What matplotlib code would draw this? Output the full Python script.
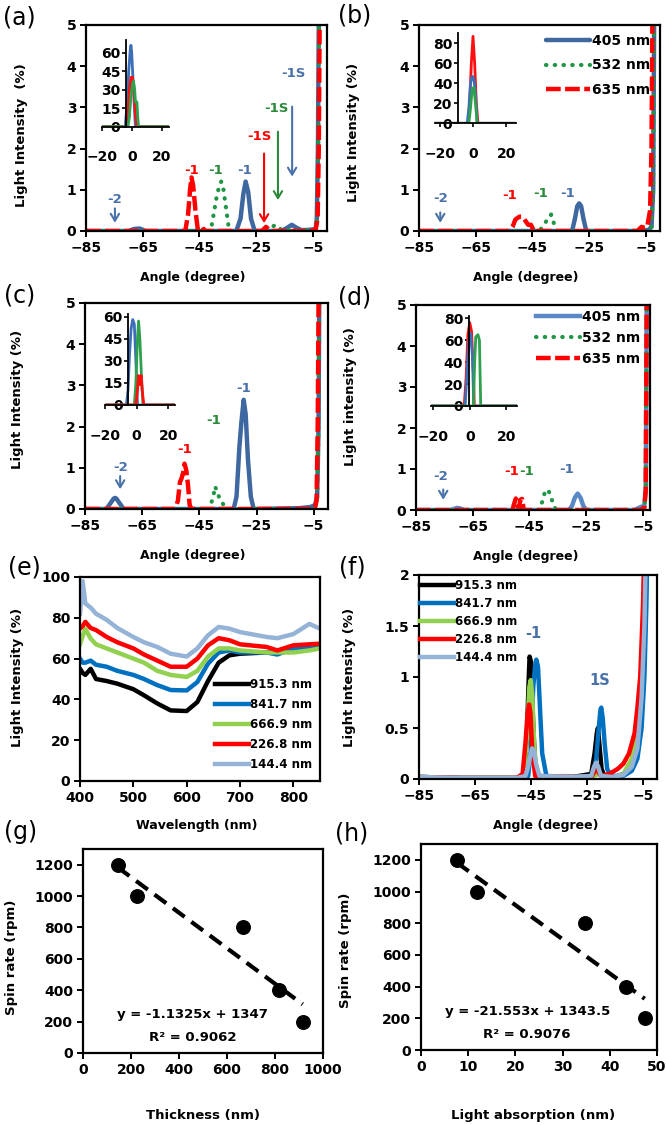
import numpy as np
import matplotlib
matplotlib.use("Agg")
import matplotlib.pyplot as plt

plt.rcParams['font.family'] = ['DejaVu Sans']
plt.rcParams['font.weight'] = 'bold'
plt.rcParams['axes.labelweight'] = 'bold'

W, H = 666, 1125

# ---------------- data ----------------
# (a) angle scans, main plot
a_blue_x = [-85, -70, -68, -66, -64, -32, -30.5, -29.5, -28.7, -27.8, -26.8, -25.5, -16, -14, -12.4, -10.8, -9, -6, -4, -3.6, -3.2, -2.8]
a_blue_y = [0, 0, 0.05, 0.06, 0, 0, 0.3, 0.9, 1.2, 0.95, 0.3, 0, 0, 0.08, 0.15, 0.08, 0.02, 0.03, 0.05, 0.3, 2.0, 6.0]
a_green_x = [-85, -41, -40, -39, -38, -37.3, -36.5, -35.5, -34.5, -22, -20, -18, -16, -6, -4, -3.5, -3.1, -2.7]
a_green_y = [0, 0, 0.4, 0.8, 1.1, 1.2, 1.0, 0.5, 0, 0, 0.08, 0.15, 0.02, 0.02, 0.05, 0.3, 2.0, 6.0]
a_red_x = [-85, -50, -49, -48.3, -47.8, -47.2, -46.4, -45.5, -44, -43.5, -43, -23, -21.5, -20, -6, -4, -3.3, -2.9, -2.5]
a_red_y = [0, 0, 0.4, 1.0, 1.3, 1.1, 0.5, 0, 0, 0.05, 0, 0, 0.1, 0, 0, 0.03, 0.3, 2.0, 6.0]

# (a) inset
ia_blue_x = [-20, -5, -4.3, -3, -2, -1, -0.5, 0, 1, 2, 2.5, 25]
ia_blue_y = [0, 0, 0, 20, 45, 62, 66, 60, 35, 10, 0, 0]
ia_red_x = [-20, -3.5, -2.5, -1.5, -0.5, 0.5, 1.5, 2.5, 3.5, 25]
ia_red_y = [0, 0, 10, 30, 40, 40, 30, 10, 0, 0]
ia_green_x = [-20, -2.5, -1.5, -0.5, 0.5, 1.2, 2, 2.5, 3.5, 4, 4.6, 25]
ia_green_y = [0, 0, 8, 25, 34, 37, 30, 20, 20, 8, 0, 0]

# (b)
b_blue_x = [-85, -31, -30, -29.2, -28.5, -27.8, -27, -26, -6, -4, -3, -2.4, -2.0]
b_blue_y = [0, 0, 0.3, 0.6, 0.67, 0.6, 0.3, 0, 0, 0.03, 0.1, 1.0, 6]
b_green_x = [-85, -43, -42, -41, -40, -39, -38.4, -37.5, -36.5, -6, -4, -3, -2.4, -2.0]
b_green_y = [0, 0, 0.05, 0.15, 0.25, 0.35, 0.4, 0.2, 0, 0, 0.03, 0.1, 1.0, 6]
b_red_x = [-85, -53, -52, -51, -49.5, -49, -48, -46.5, -45.5, -44.5, -8, -6.5, -5.5, -4.5, -3.5, -3, -2.6]
b_red_y = [0, 0, 0.1, 0.28, 0.35, 0.35, 0.3, 0.15, 0.15, 0, 0, 0.1, 0.08, 0.1, 0.5, 2.0, 6]

ib_red_x = [-23, -3, -2, -1, 0, 1, 2, 3, 26]
ib_red_y = [0, 0, 20, 60, 87, 60, 20, 0, 0]
ib_blue_x = [-23, -3.5, -2.5, -1.5, -0.5, 0.5, 1.5, 2.5, 26]
ib_blue_y = [0, 0, 15, 40, 47, 45, 30, 0, 0]
ib_green_x = [-23, -2.5, -1.5, -0.5, 0.5, 1.5, 2.5, 26]
ib_green_y = [0, 0, 15, 34, 36, 20, 0, 0]

# (c)
c_blue_x = [-85, -77.5, -76, -75, -74.5, -74, -73, -71.5, -33, -32, -31, -30.3, -29.5, -28.8, -28, -27, -26, -10, -6, -4.5, -3.8, -3.3, -3]
c_blue_y = [0, 0, 0.15, 0.25, 0.27, 0.25, 0.15, 0, 0, 0.3, 1.5, 2.1, 2.65, 2.3, 1.2, 0.3, 0, 0.02, 0.05, 0.1, 0.3, 2.0, 6]
c_green_x = [-85, -42, -41, -40, -39.5, -38.5, -37.5, -36.5, -35.5, -6, -4.5, -3.8, -3.3, -3]
c_green_y = [0, 0, 0.1, 0.35, 0.55, 0.35, 0.2, 0.1, 0, 0, 0.05, 0.2, 2, 6]
c_red_x = [-85, -53.5, -52.5, -51.8, -51.2, -50.6, -50.2, -49.6, -49, -48.4, -47.8, -6, -4.5, -4, -3.6, -3.2]
c_red_y = [0, 0, 0.2, 0.65, 0.75, 0.9, 1.1, 0.95, 0.6, 0.1, 0, 0, 0.05, 0.2, 2, 6]

ic_blue_x = [-20, -6.5, -5.5, -4.5, -3.5, -2.5, -1.5, -0.5, 0.5, 24]
ic_blue_y = [0, 0, 10, 35, 52, 58, 55, 30, 0, 0]
ic_green_x = [-20, -1.5, -0.5, 0.5, 1.2, 2, 3, 4, 24]
ic_green_y = [0, 0, 15, 45, 57, 45, 20, 0, 0]
ic_red_x = [-20, -0.5, 0.5, 1.2, 2, 2.8, 3.5, 4.5, 24]
ic_red_y = [0, 0, 10, 20, 14, 20, 10, 0, 0]

# (d)
d_blue_x = [-85, -73, -71, -70.5, -69.5, -68, -31, -30, -29, -28, -27, -26, -25, -8, -6.5, -5.5, -4.5, -4, -3.6]
d_blue_y = [0, 0, 0.04, 0.05, 0.04, 0, 0, 0.1, 0.3, 0.4, 0.3, 0.1, 0, 0, 0.05, 0.08, 0.1, 0.5, 6]
d_green_x = [-85, -41.5, -40.5, -39.5, -38.5, -37.5, -36.5, -35.5, -6, -4.5, -4, -3.6]
d_green_y = [0, 0, 0.2, 0.45, 0.5, 0.35, 0.1, 0, 0, 0.05, 0.5, 6]
d_red_x = [-85, -51, -50.2, -49.8, -49.2, -48.7, -48.2, -47.6, -47, -6, -4.5, -4, -3.6]
d_red_y = [0, 0, 0.2, 0.28, 0.1, 0.05, 0.25, 0.27, 0, 0, 0.05, 0.5, 6]

id_red_x = [-21, -3, -2, -1, 0, 1, 2, 2.5, 26]
id_red_y = [0, 0, 25, 65, 76, 68, 30, 0, 0]
id_blue_x = [-21, -2.5, -1.5, -0.5, 0.5, 1.5, 2.2, 26]
id_blue_y = [0, 0, 30, 60, 66, 45, 0, 0]
id_green_x = [-21, 2, 2.7, 3.3, 4.5, 5.3, 6, 26]
id_green_y = [0, 0, 40, 63, 65, 60, 0, 0]

laser_labels = ['405 nm', '532 nm', '635 nm']

# (e) spectra
thick_labels = ['915.3 nm', '841.7 nm', '666.9 nm', '226.8 nm', '144.4 nm']
e_x = [400, 405, 410, 420, 430, 450, 470, 500, 520, 545, 570, 600, 620, 640, 660, 680, 700, 750, 770, 800, 830, 850]
e_915 = [55, 53, 52, 55, 50, 49, 47.7, 45, 42, 38, 34.6, 34.3, 38.7, 49, 58, 61.6, 62.4, 63, 63, 65, 66, 67]
e_842 = [60, 58, 58, 59, 57, 56, 54, 52, 50, 47, 44.6, 44.4, 48.5, 57.5, 63, 64, 63, 63, 62, 65, 65, 66]
e_667 = [67, 71, 74.6, 69.8, 67, 65, 63, 60, 58, 54, 52, 51, 54, 61, 65, 65, 64, 63, 63, 63, 64, 65]
e_227 = [74.7, 76, 78, 75, 74, 70.6, 68, 65, 62, 59, 56, 56, 60, 66.5, 70, 69, 67, 65.7, 64, 66.5, 67, 67.3]
e_144 = [82, 98, 87, 85, 82, 79, 75, 70.6, 68, 65.7, 62.4, 61, 65, 71.4, 75.5, 74.7, 73, 70.6, 70, 72, 77, 74.7]

# (f) angle scans for the five thicknesses
f_915_x = [-85, -70, -60, -50, -47.5, -46.5, -45.8, -45.5, -45, -44.3, -43.5, -42, -30, -23.5, -22.3, -21.5, -21.1, -20.6, -19.8, -18.8, -15, -12, -10, -8, -6, -5, -4, -3.5]
f_915_y = [0.02, 0.01, 0.01, 0.01, 0.05, 0.4, 1.0, 1.2, 1.15, 0.6, 0.1, 0.02, 0.02, 0.05, 0.25, 0.45, 0.5, 0.35, 0.1, 0.03, 0.02, 0.05, 0.1, 0.2, 0.6, 1.0, 1.8, 2.5]
f_842_x = [-85, -70, -50, -46, -45, -44.2, -43.5, -43.1, -42.5, -41.8, -41, -39.5, -30, -23, -21.7, -20.8, -20.2, -19.9, -19.4, -18.7, -17.8, -16.5, -12, -9, -7, -5.5, -4.5, -3.8, -3.3]
f_842_y = [0.02, 0.01, 0.01, 0.03, 0.3, 0.9, 1.12, 1.17, 1.1, 0.7, 0.25, 0.03, 0.02, 0.03, 0.2, 0.5, 0.68, 0.7, 0.6, 0.35, 0.1, 0.03, 0.03, 0.08, 0.2, 0.5, 1.0, 1.7, 2.5]
f_667_x = [-85, -70, -50, -47.5, -46.5, -45.6, -45.1, -44.5, -43.8, -42.8, -30, -23, -21.1, -19, -15, -12, -9, -7, -6, -5, -4.3, -3.8]
f_667_y = [0.02, 0.01, 0.01, 0.04, 0.4, 0.9, 0.97, 0.8, 0.3, 0.03, 0.02, 0.02, 0.05, 0.02, 0.02, 0.05, 0.2, 0.45, 0.8, 1.3, 2.2, 2.6]
f_227_x = [-85, -70, -50, -48, -47, -46.2, -45.7, -45.2, -44.5, -43.5, -30, -23.5, -21.7, -20, -17, -14, -12, -10, -8, -7, -6, -5, -4.5]
f_227_y = [0.02, 0.01, 0.01, 0.05, 0.35, 0.65, 0.73, 0.65, 0.25, 0.03, 0.02, 0.02, 0.1, 0.03, 0.05, 0.1, 0.15, 0.25, 0.45, 0.7, 1.0, 1.7, 2.3]
f_144_x = [-85, -70, -50, -47, -46, -45.3, -44.6, -44, -43.2, -42, -30, -23.5, -22.5, -21.7, -21, -20, -16, -12, -9, -7, -5.5, -4.5, -3.8]
f_144_y = [0.02, 0.01, 0.01, 0.03, 0.12, 0.22, 0.3, 0.28, 0.15, 0.03, 0.02, 0.03, 0.12, 0.16, 0.12, 0.03, 0.02, 0.04, 0.12, 0.3, 0.8, 1.5, 2.5]

# (g), (h)
spin_rate = [1200, 1000, 800, 400, 200]
thickness = [144.4, 226.8, 666.9, 815.0, 915.3]
absorption = [7.6, 11.8, 34.8, 43.5, 47.4]

# ---------------- styles ----------------
BLUE = '#3F67A0'
GREEN = '#1E9646'
RED = '#FF0000'
TXT_BLUE = '#4A72A8'
TXT_GREEN = '#2A8A3A'
IN_BLUE = '#3C6FB8'
IN_GREEN = '#2EA04E'
IN_RED = '#FF1010'
blue_kw = dict(color=BLUE, lw=3.2, solid_capstyle='round')
green_kw = dict(color=GREEN, lw=3.0, linestyle=(0, (0.1, 2.0)), dash_capstyle='round')
red_kw = dict(color=RED, lw=3.2, linestyle=(0, (3.3, 1.0)))
thick_colors = ['#000000', '#0070C0', '#92D050', '#FF0000', '#95B3D7']

TICK = 10

fig = plt.figure(figsize=(W / 100, H / 100), dpi=100)


def px_axes(x0, x1, yt, yb):
    return fig.add_axes([x0 / W, 1 - yb / H, (x1 - x0) / W, (yb - yt) / H])


def ftext(x, y, s, **kw):
    kw.setdefault('ha', 'center')
    kw.setdefault('va', 'center')
    fig.text(x / W, 1 - y / H, s, **kw)


def style_main(ax):
    for sp in ax.spines.values():
        sp.set_linewidth(1.6)
    ax.tick_params(direction='out', length=4, width=1.4, labelsize=TICK, pad=3)


def angle_panel(ax, xmax):
    ax.set_xlim(-85, xmax)
    ax.set_ylim(0, 5)
    ax.set_xticks([-85, -65, -45, -25, -5])
    ax.set_yticks(range(6))
    style_main(ax)


def inset(x0, x1, yt, yb, xlim, ylim, yticks, yaxis_at):
    ax = px_axes(x0, x1, yt, yb)
    ax.patch.set_alpha(0)
    ax.spines['top'].set_visible(False)
    ax.spines['right'].set_visible(False)
    ax.spines['left'].set_position(('data', yaxis_at))
    for sp in ax.spines.values():
        sp.set_linewidth(1.3)
    ax.set_xlim(xlim)
    ax.set_ylim(ylim)
    ax.set_xticks([-20, 0, 20])
    ax.set_yticks(yticks)
    ax.tick_params(direction='out', length=3, width=1.2, labelsize=TICK, pad=1)
    ax.tick_params(axis='x', pad=14)
    return ax


def label(ax, x, y, s, c, size=9.5):
    ax.text(x, y, s, color=c, ha='center', va='center', fontsize=size)


def arrow(ax, x, y0, y1, c, head='->,head_length=0.5,head_width=0.3'):
    ax.annotate('', xy=(x, y1), xytext=(x, y0),
                arrowprops=dict(arrowstyle=head, lw=1.5, color=c, shrinkA=0, shrinkB=0))


# ---------------- (a) ----------------
ax = px_axes(86, 327, 25, 231)
ax.plot(a_blue_x, a_blue_y, **blue_kw)
ax.plot(a_green_x, a_green_y, **green_kw)
ax.plot(a_red_x, a_red_y, **red_kw)
angle_panel(ax, 0)
label(ax, -74.8, 0.77, '-2', TXT_BLUE)
arrow(ax, -74.8, 0.55, 0.2, TXT_BLUE)
label(ax, -47.8, 1.48, '-1', RED)
label(ax, -39.3, 1.48, '-1', TXT_GREEN)
label(ax, -29, 1.48, '-1', TXT_BLUE)
label(ax, -23.8, 2.29, '-1S', RED)
arrow(ax, -22.2, 1.88, 0.19, RED)
label(ax, -17.9, 2.98, '-1S', TXT_GREEN)
arrow(ax, -17.3, 2.41, 0.75, TXT_GREEN)
label(ax, -12, 3.83, '-1S', TXT_BLUE)
arrow(ax, -12.3, 3.02, 1.32, TXT_BLUE)

ax = inset(101.7, 169.2, 40.4, 126.7, (-20, 25), (0, 70), [0, 15, 30, 45, 60], -3.8)
ax.plot(ia_blue_x, ia_blue_y, color=IN_BLUE, lw=2)
ax.plot(ia_red_x, ia_red_y, color=IN_RED, lw=2)
ax.plot(ia_green_x, ia_green_y, color=IN_GREEN, lw=2)

# ---------------- (b) ----------------
ax = px_axes(419, 660, 25, 231)
l1, = ax.plot(b_blue_x, b_blue_y, **blue_kw)
l2, = ax.plot(b_green_x, b_green_y, **green_kw)
l3, = ax.plot(b_red_x, b_red_y, **red_kw)
angle_panel(ax, 0)
label(ax, -77.5, 0.8, '-2', TXT_BLUE)
arrow(ax, -77.5, 0.45, 0.2, TXT_BLUE)
label(ax, -53, 0.87, '-1', RED)
label(ax, -42, 0.9, '-1', TXT_GREEN)
label(ax, -32.6, 0.9, '-1', TXT_BLUE)
fig.legend([l1, l2, l3], laser_labels, loc='upper right', bbox_to_anchor=(650 / W, 1 - 34 / H),
           frameon=False, fontsize=10, handlelength=3.2, handletextpad=0.1,
           labelspacing=0.75, borderpad=0, borderaxespad=0)

ax = inset(434.7, 516.3, 33.3, 123.3, (-23, 26), (0, 90), [0, 20, 40, 60, 80], -9)
ax.plot(ib_red_x, ib_red_y, color=IN_RED, lw=2)
ax.plot(ib_blue_x, ib_blue_y, color=IN_BLUE, lw=2)
ax.plot(ib_green_x, ib_green_y, color=IN_GREEN, lw=2)

# ---------------- (c) ----------------
ax = px_axes(85, 328, 303, 509)
ax.plot(c_blue_x, c_blue_y, **blue_kw)
ax.plot(c_green_x, c_green_y, **green_kw)
ax.plot(c_red_x, c_red_y, **red_kw)
angle_panel(ax, 0)
label(ax, -72.7, 1.0, '-2', TXT_BLUE)
arrow(ax, -72.7, 0.8, 0.48, TXT_BLUE)
label(ax, -50.2, 1.45, '-1', RED)
label(ax, -40, 2.14, '-1', TXT_GREEN)
label(ax, -29.5, 2.92, '-1', TXT_BLUE)

ax = inset(105, 174.7, 313.7, 405, (-20, 24), (0, 62), [0, 15, 30, 45, 60], -5.3)
ax.plot(ic_blue_x, ic_blue_y, color=IN_BLUE, lw=2)
ax.plot(ic_green_x, ic_green_y, color=IN_GREEN, lw=2)
ax.plot(ic_red_x, ic_red_y, color=IN_RED, lw=2)

# ---------------- (d) ----------------
ax = px_axes(416, 650, 305, 510)
l1, = ax.plot(d_blue_x, d_blue_y, color='#5A87C6', lw=3.2)
l2, = ax.plot(d_green_x, d_green_y, **green_kw)
l3, = ax.plot(d_red_x, d_red_y, **red_kw)
angle_panel(ax, -2.5)
label(ax, -76.3, 0.81, '-2', TXT_BLUE)
arrow(ax, -75.4, 0.5, 0.25, TXT_BLUE)
label(ax, -51.3, 0.93, '-1', RED)
label(ax, -46, 0.93, '-1', TXT_GREEN)
label(ax, -32, 0.98, '-1', TXT_BLUE)
fig.legend([l1, l2, l3], laser_labels, loc='upper right', bbox_to_anchor=(640 / W, 1 - 310 / H),
           frameon=False, fontsize=10, handlelength=3.2, handletextpad=0.1,
           labelspacing=0.5, borderpad=0, borderaxespad=0)

ax = inset(431.2, 517.4, 316, 406, (-21, 26), (0, 82), [0, 20, 40, 60, 80], -0.5)
ax.plot(id_red_x, id_red_y, color=IN_RED, lw=2)
ax.plot(id_blue_x, id_blue_y, color=IN_BLUE, lw=2)
ax.plot(id_green_x, id_green_y, color=IN_GREEN, lw=2)

# ---------------- (e) ----------------
ax = px_axes(80, 320, 577, 781)
lines = []
for ys, c in zip([e_915, e_842, e_667, e_227, e_144], thick_colors):
    l, = ax.plot(e_x, ys, color=c, lw=3.2)
    lines.append(l)
ax.set_xlim(400, 850)
ax.set_ylim(0, 100)
ax.set_xticks([400, 500, 600, 700, 800])
ax.set_yticks(range(0, 101, 20))
style_main(ax)
fig.legend(lines, thick_labels, loc='upper left', bbox_to_anchor=(215 / W, 1 - 678 / H),
           frameon=False, fontsize=8.5, handlelength=2.9, handletextpad=0.1,
           labelspacing=0.6, borderpad=0, borderaxespad=0)

# ---------------- (f) ----------------
ax = px_axes(419, 657, 575, 779)
lines = []
for xs, ys, c in zip([f_915_x, f_842_x, f_667_x, f_227_x, f_144_x],
                     [f_915_y, f_842_y, f_667_y, f_227_y, f_144_y], thick_colors):
    l, = ax.plot(xs, ys, color=c, lw=3.2)
    lines.append(l)
ax.set_xlim(-85, 0)
ax.set_ylim(0, 2)
ax.set_xticks([-85, -65, -45, -25, -5])
ax.set_yticks([0, 0.5, 1, 1.5, 2])
ax.set_yticklabels(['0', '0.5', '1', '1.5', '2'])
style_main(ax)
label(ax, -44.3, 1.43, '-1', TXT_BLUE, 10.5)
label(ax, -20.5, 0.97, '1S', TXT_BLUE, 10.5)
fig.legend(lines, thick_labels, loc='upper left', bbox_to_anchor=(420 / W, 1 - 579 / H),
           frameon=False, fontsize=8.5, handlelength=2.9, handletextpad=0.1,
           labelspacing=0.42, borderpad=0, borderaxespad=0)


# ---------------- (g), (h) ----------------
def spin_panel(ax, xs, xlim, xticks, eq, eqx):
    ax.scatter(xs, spin_rate, s=95, color='black', zorder=3)
    k, b = np.polyfit(xs, spin_rate, 1)
    xx = np.array([min(xs), max(xs)])
    ax.plot(xx, k * xx + b, color='black', lw=3, linestyle=(0, (3.5, 2.0)))
    ax.set_xlim(*xlim)
    ax.set_ylim(0, 1300)
    ax.set_xticks(xticks)
    ax.set_yticks(range(0, 1201, 200))
    style_main(ax)
    ax.text(eqx, 245, eq[0], ha='center', va='center', fontsize=9.5)
    ax.text(eqx, 100, eq[1], ha='center', va='center', fontsize=9.5)


ax = px_axes(83, 323, 849, 1053)
spin_panel(ax, thickness, (0, 1000), range(0, 1001, 200),
           ['y = -1.1325x + 1347', 'R² = 0.9062'], 458)
ax = px_axes(421, 657, 844, 1050)
spin_panel(ax, absorption, (0, 50), range(0, 51, 10),
           ['y = -21.553x + 1343.5', 'R² = 0.9076'], 22.5)

# ---------------- axis titles and panel letters ----------------
for x, y in [(193, 278), (526, 278), (193, 555), (526, 557), (546, 825)]:
    ftext(x, y, 'Angle (degree)', fontsize=9)
ftext(197, 825, 'Wavelength (nm)', fontsize=9)
ftext(203, 1115, 'Thickness (nm)', fontsize=9.5)
ftext(533, 1115, 'Light absorption (nm)', fontsize=9.5)

ylabels = [(22, 135, 'Light Intensity  (%)'), (353, 132, 'Light Intensity (%)'),
           (18, 399, 'Light Intensity (%)'), (351, 397, 'Light intensity (%)'),
           (18, 677, 'Light Intensity (%)'), (350, 677, 'Light Intensity (%)'),
           (12, 957, 'Spin rate (rpm)'), (345, 950, 'Spin rate (rpm)')]
for x, y, s in ylabels:
    ftext(x, y, s, fontsize=9.5, rotation=90)

letters = [(19, 17, '(a)'), (355, 16, '(b)'), (20, 296, '(c)'), (355, 297, '(d)'),
           (24, 567, '(e)'), (352, 567, '(f)'), (21, 832, '(g)'), (352, 834, '(h)')]
for x, y, s in letters:
    ftext(x, y, s, fontsize=17, fontweight='normal')

fig.savefig('out.png', dpi=100)
